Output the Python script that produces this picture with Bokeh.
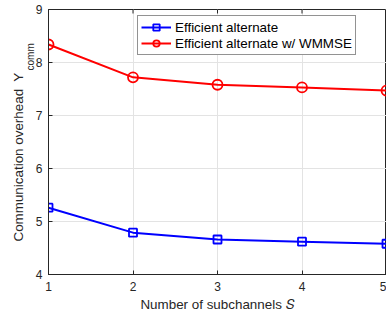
from bokeh.plotting import figure
from bokeh.models import Range1d, FixedTicker, Legend, LegendItem, Title
from bokeh.embed import file_html
from bokeh.resources import INLINE

subchannels = [1, 2, 3, 4, 5]
eff_alt = [5.26, 4.79, 4.66, 4.62, 4.58]
eff_alt_wmmse = [8.34, 7.72, 7.58, 7.53, 7.47]
x_ticks = [1, 2, 3, 4, 5]
y_ticks = [4, 5, 6, 7, 8, 9]

W, H = 386, 314
BL, BR, BT, BB = 48, 0, 9, 40
FW, FH = W - BL - BR, H - BT - BB
XMIN, XMAX, YMIN, YMAX = 1, 5, 4, 9

TXT = "#262626"
FONT = "Liberation Sans"
LBL = "13.4px"

p = figure(width=W, height=H, output_backend="svg", toolbar_location=None,
           x_range=Range1d(XMIN, XMAX), y_range=Range1d(YMIN, YMAX),
           min_border_left=BL, min_border_right=BR, min_border_top=BT, min_border_bottom=BB,
           background_fill_color="white", border_fill_color="white")
p.outline_line_color = TXT
p.outline_line_width = 1

for ax in (p.xaxis[0], p.yaxis[0]):
    ax.major_tick_in = 4
    ax.major_tick_out = 0
    ax.minor_tick_line_color = None
    ax.axis_line_color = TXT
    ax.major_tick_line_color = TXT
    ax.major_label_text_color = TXT
    ax.major_label_text_font = FONT
    ax.major_label_text_font_size = "12px"
p.xaxis.ticker = FixedTicker(ticks=x_ticks)
p.yaxis.ticker = FixedTicker(ticks=y_ticks)
p.xaxis.major_label_standoff = 7
p.yaxis.major_label_standoff = 6

p.xaxis.axis_label = "Number of subchannels \U0001D446"
p.xaxis.axis_label_text_font = FONT
p.xaxis.axis_label_text_font_size = LBL
p.xaxis.axis_label_text_font_style = "normal"
p.xaxis.axis_label_text_color = TXT
p.xaxis.axis_label_standoff = 3

p.grid.grid_line_color = "#e3e3e3"
p.grid.grid_line_width = 1
p.xgrid.ticker = FixedTicker(ticks=x_ticks)
p.ygrid.ticker = FixedTicker(ticks=y_ticks)

# inward ticks along the top of the box
tick_len = 4 * (YMAX - YMIN) / FH
p.segment(x0=x_ticks, x1=x_ticks, y0=[YMAX] * len(x_ticks),
          y1=[YMAX - tick_len] * len(x_ticks), line_color=TXT, line_width=1)

bl = p.line(subchannels, eff_alt, line_color="#0000ff", line_width=2)
bs = p.scatter(subchannels, eff_alt, marker="square", size=8, line_color="#0000ff",
               line_width=1.8, fill_color=None)
rl = p.line(subchannels, eff_alt_wmmse, line_color="#ff0000", line_width=2)
rs = p.scatter(subchannels, eff_alt_wmmse, marker="circle", size=10, line_color="#ff0000",
               line_width=1.8, fill_color=None)

legend = Legend(items=[LegendItem(label="Efficient alternate", renderers=[bl, bs]),
                       LegendItem(label="Efficient alternate w/ WMMSE", renderers=[rl, rs])],
                location=(89, FH - 8 - 38),
                label_text_font=FONT, label_text_font_size=LBL, label_text_color="black",
                glyph_width=30, glyph_height=16, label_standoff=4, label_height=16,
                spacing=0, padding=3, margin=0,
                border_line_color=TXT, border_line_width=1,
                background_fill_color="white", background_fill_alpha=1)
p.add_layout(legend, "center")

# y-axis label: main text and subscript as two vertical titles in the left panel
p.add_layout(Title(text="comm", text_font=FONT, text_font_size="10px",
                   text_font_style="normal", text_color=TXT, align="left",
                   offset=204, standoff=-6), "left")
p.add_layout(Title(text="Communication overhead\u00a0 Y", text_font=FONT, text_font_size=LBL,
                   text_font_style="normal", text_color=TXT, align="left",
                   offset=33, standoff=0), "left")

open("out.html", "w").write(file_html(p, INLINE))
